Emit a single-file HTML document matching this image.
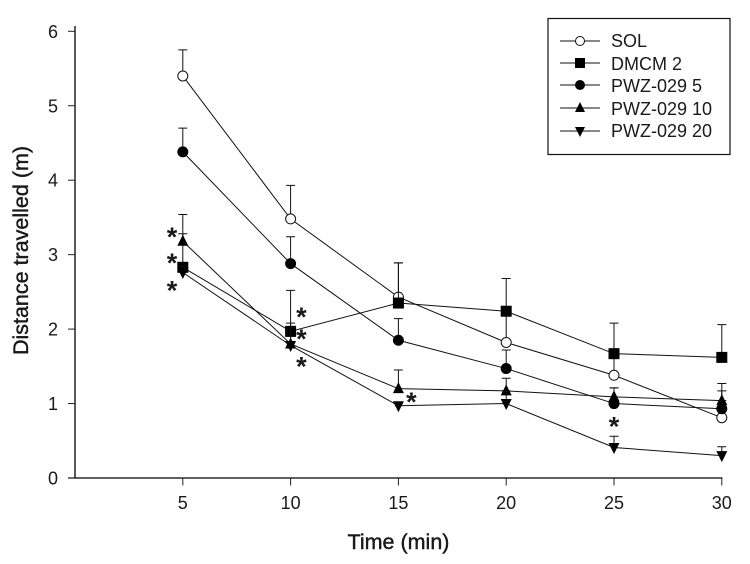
<!DOCTYPE html>
<html>
<head>
<meta charset="utf-8">
<title>Distance travelled over time</title>
<style>
html,body{margin:0;padding:0;background:#fff;}
svg{display:block;font-family:"Liberation Sans",Arial,sans-serif;}
text{fill:#1a1a1a;}
</style>
</head>
<body>
<svg id="chart" width="750" height="564" viewBox="0 0 750 564" xmlns="http://www.w3.org/2000/svg">
  <rect x="0" y="0" width="750" height="564" fill="#fff"/>
  <g id="plot"></g>
  <line x1="75" y1="26" x2="75" y2="478.5" stroke="#000" stroke-width="1.3"/>
  <line x1="68" y1="478" x2="722.5" y2="478" stroke="#000" stroke-width="1.3"/>
  <g id="axes"></g>
  <text x="398.5" y="549" font-size="21.5" text-anchor="middle" stroke="#111" stroke-width="0.4">Time (min)</text>
  <text transform="translate(28,250.5) rotate(-90)" font-size="21.5" text-anchor="middle" stroke="#111" stroke-width="0.4">Distance travelled (m)</text>
  <g>
    <rect x="548" y="18.5" width="182" height="136" fill="#fff" stroke="#111" stroke-width="1.2"/>
    <g id="legend-marks"></g>
    <text x="611" y="47" font-size="18">SOL</text>
    <text x="611" y="70" font-size="18">DMCM 2</text>
    <text x="611" y="92" font-size="18">PWZ-029 5</text>
    <text x="611" y="115" font-size="18">PWZ-029 10</text>
    <text x="611" y="137" font-size="18">PWZ-029 20</text>
  </g>
</svg>
<script>
const times = [5, 10, 15, 20, 25, 30];
const xTickLabels = [5, 10, 15, 20, 25, 30];
const yTickLabels = [0, 1, 2, 3, 4, 5, 6];

const solValues = [5.40, 3.48, 2.43, 1.82, 1.38, 0.81];
const solUpper = [5.75, 3.93, 2.89, 2.24, 1.67, 1.04];
const dmcmValues = [2.83, 1.97, 2.35, 2.24, 1.67, 1.62];
const dmcmUpper = [3.28, 2.52, 2.89, 2.68, 2.08, 2.06];
const pwz5Values = [4.38, 2.88, 1.85, 1.47, 1.00, 0.93];
const pwz5Upper = [4.70, 3.24, 2.14, 1.72, 1.21, 1.17];
const pwz10Values = [3.18, 1.80, 1.20, 1.17, 1.09, 1.04];
const pwz10Upper = [3.54, 2.08, 1.45, 1.34, 1.21, 1.27];
const pwz20Values = [2.76, 1.78, 0.97, 1.00, 0.41, 0.30];
const pwz20Upper = [2.85, 1.90, 1.00, 1.17, 0.56, 0.42];

const starTimes = [4.5, 4.5, 4.5, 10.5, 10.5, 10.5, 15.6, 25.0];
const starValues = [3.28, 2.93, 2.56, 2.20, 1.91, 1.54, 1.06, 0.73];

const NS = 'http://www.w3.org/2000/svg';
function xScale(t) { return 75 + t * 21.56; }
function yScale(v) { return 478 - v * 74.45; }

function mk(parent, tag, attrs) {
  const el = document.createElementNS(NS, tag);
  for (const k in attrs) el.setAttribute(k, attrs[k]);
  parent.appendChild(el);
  return el;
}

function marker(parent, kind, cx, cy, r) {
  let el;
  if (kind === 'open') {
    el = mk(parent, 'circle', {cx: cx, cy: cy, r: r - 0.5, fill: '#fff', stroke: '#111', 'stroke-width': 1});
  } else if (kind === 'square') {
    el = mk(parent, 'rect', {x: cx - r, y: cy - r, width: 2 * r, height: 2 * r, fill: '#000'});
  } else if (kind === 'circle') {
    el = mk(parent, 'circle', {cx: cx, cy: cy, r: r, fill: '#000'});
  } else if (kind === 'up') {
    el = mk(parent, 'polygon', {points: (cx - r) + ',' + (cy + r - 1) + ' ' + (cx + r) + ',' + (cy + r - 1) + ' ' + cx + ',' + (cy - r - 1), fill: '#000'});
  } else {
    el = mk(parent, 'polygon', {points: (cx - r) + ',' + (cy - r + 1) + ' ' + (cx + r) + ',' + (cy - r + 1) + ' ' + cx + ',' + (cy + r + 1), fill: '#000'});
  }
  return el;
}

const plot = document.getElementById('plot');
const axes = document.getElementById('axes');
const legendMarks = document.getElementById('legend-marks');

xTickLabels.forEach(function (t) {
  const tick = mk(axes, 'line', {x1: xScale(t), y1: 478, x2: xScale(t), y2: 485.5, stroke: '#222', 'stroke-width': 1});
  
  
  const lab = mk(axes, 'text', {x: xScale(t), y: 509, 'font-size': 18, 'text-anchor': 'middle'});
  lab.textContent = t;
  
  
});

yTickLabels.forEach(function (v) {
  const tick = mk(axes, 'line', {x1: 68, y1: yScale(v), x2: 75, y2: yScale(v), stroke: '#222', 'stroke-width': 1});
  
  
  const lab = mk(axes, 'text', {x: 58, y: yScale(v) + 6.5, 'font-size': 18, 'text-anchor': 'end'});
  lab.textContent = v;
  
  
});

function drawSeries(values, upper, kind, r) {
  const g = mk(plot, 'g', {});
  
  
  const pts = values.map(function (v, i) { return xScale(times[i]) + ',' + yScale(v); }).join(' ');
  const line = mk(g, 'polyline', {points: pts, fill: 'none', stroke: '#111', 'stroke-width': 1});
  
  
  values.forEach(function (v, i) {
    const x = xScale(times[i]);
    const bar = mk(g, 'path', {
      d: 'M' + x + ' ' + yScale(v) + 'V' + yScale(upper[i]) + 'M' + (x - 4.5) + ' ' + yScale(upper[i]) + 'H' + (x + 4.5),
      fill: 'none', stroke: '#111', 'stroke-width': 1
    });
    
    
  });
  values.forEach(function (v, i) {
    const m = marker(g, kind, xScale(times[i]), yScale(v), r);
    
    
  });
}

drawSeries(solValues, solUpper, 'open', 5.5);
drawSeries(dmcmValues, dmcmUpper, 'square', 5.5);
drawSeries(pwz5Values, pwz5Upper, 'circle', 5.5);
drawSeries(pwz10Values, pwz10Upper, 'up', 5.5);
drawSeries(pwz20Values, pwz20Upper, 'down', 5.5);

starTimes.forEach(function (t, i) {
  const s = mk(plot, 'text', {x: xScale(t), y: yScale(starValues[i]) + 12, 'font-size': 27, 'font-weight': 'bold', 'text-anchor': 'middle'});
  s.textContent = '*';
  
  
});

['open', 'square', 'circle', 'up', 'down'].forEach(function (kind, i) {
  const y = [41, 63, 85, 108, 131][i];
  const l = mk(legendMarks, 'line', {x1: 560, y1: y, x2: 600, y2: y, stroke: '#111', 'stroke-width': 1});
  
  
  const m = marker(legendMarks, kind, 580, y, 5);
  
  
});
</script>
</body>
</html>
